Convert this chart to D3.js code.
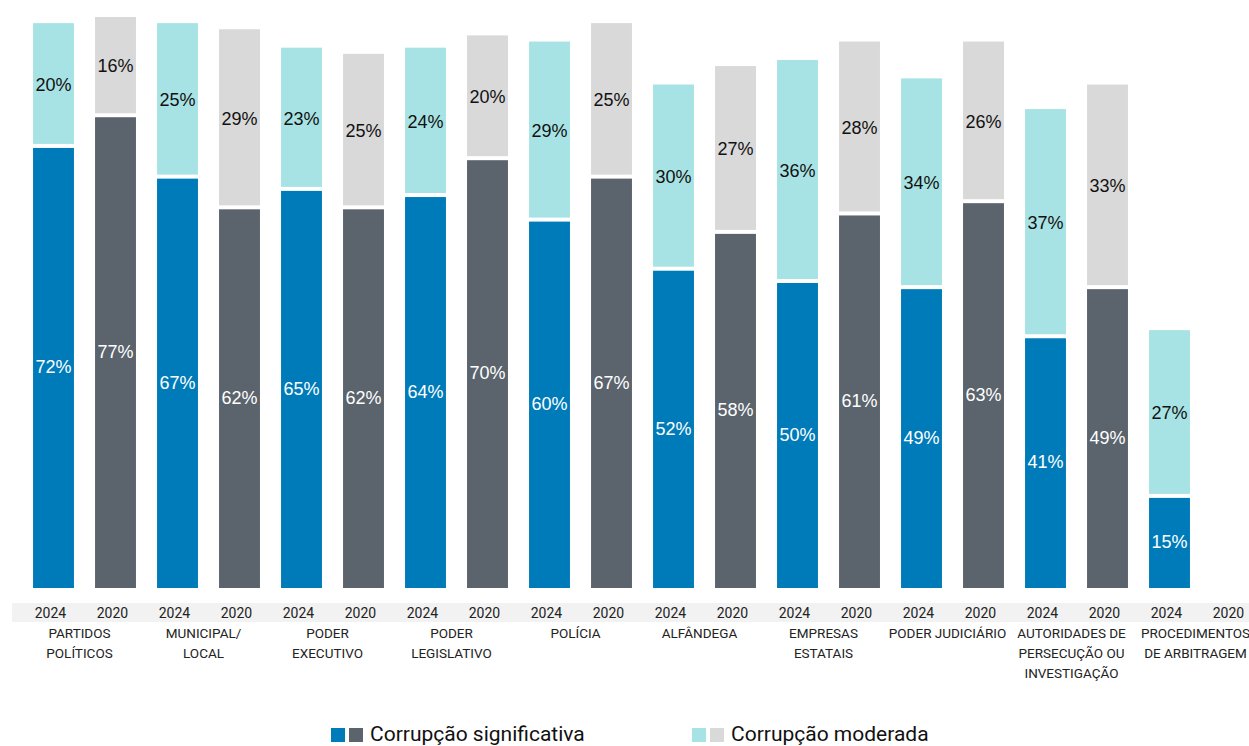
<!DOCTYPE html>
<html lang="pt">
<head>
    <meta charset="UTF-8">
    <title>Corrupção por instituição 2024 vs 2020</title>
    <script src="https://d3js.org/d3.v7.min.js"></script>
    <style>
        body { margin: 0; background: #fff; }
        svg { display: block; }
    </style>
</head>
<body>
    <div id="chart"></div>

    <script>
        // categories (line breaks as in the original)
        const categories = [
            "PARTIDOS\nPOLÍTICOS", "MUNICIPAL/\nLOCAL", "PODER\nEXECUTIVO", "PODER\nLEGISLATIVO",
            "POLÍCIA", "ALFÂNDEGA", "EMPRESAS\nESTATAIS", "PODER JUDICIÁRIO",
            "AUTORIDADES DE\nPERSECUÇÃO OU\nINVESTIGAÇÃO", "PROCEDIMENTOS\nDE ARBITRAGEM"
        ];
        const years = ["2024", "2020"];

        const significativa2024 = [72, 67, 65, 64, 60, 52, 50, 49, 41, 15];
        const moderada2024      = [20, 25, 23, 24, 29, 30, 36, 34, 37, 27];
        const significativa2020 = [77, 62, 62, 70, 67, 58, 61, 63, 49, null];
        const moderada2020      = [16, 29, 25, 20, 25, 27, 28, 26, 33, null];

        const legendLabels = ["Corrupção significativa", "Corrupção moderada"];

        const colors = {
            "2024": { sig: "#007bb9", mod: "#a7e3e4" },
            "2020": { sig: "#5b636d", mod: "#d9d9d9" }
        };

        const width = 1249;
        const height = 746;

        const svg = d3.select("#chart").append("svg")
            .attr("width", width)
            .attr("height", height);

        // one slot per category/year pair
        const slots = [];
        categories.forEach((c, i) => {
            years.forEach(yr => {
                const s = yr === "2024" ? significativa2024[i] : significativa2020[i];
                const m = yr === "2024" ? moderada2024[i] : moderada2020[i];
                slots.push({ cat: i, year: yr, sig: s, mod: m });
            });
        });

        const x = d3.scaleBand()
            .domain(d3.range(slots.length))
            .range([22.5, 22.5 + 62 * slots.length])
            .paddingInner(0.34)
            .paddingOuter(0.17);

        const y = d3.scaleLinear()
            .domain([0, 100])
            .range([588, -26]);

        const gap = 2;

        const bars = svg.selectAll(".bar")
            .data(slots.filter(d => d.sig != null))
            .enter()
            .append("g")
            .attr("class", "bar");

        const idx = d => slots.indexOf(d);

        // significant corruption (bottom)
        bars.append("rect")
            .attr("x", d => x(idx(d)))
            .attr("width", x.bandwidth())
            .attr("y", d => y(d.sig) + gap)
            .attr("height", d => y(0) - y(d.sig) - gap)
            .attr("fill", d => colors[d.year].sig);

        // moderate corruption (top)
        bars.append("rect")
            .attr("x", d => x(idx(d)))
            .attr("width", x.bandwidth())
            .attr("y", d => y(d.sig + d.mod))
            .attr("height", d => y(d.sig) - y(d.sig + d.mod) - gap)
            .attr("fill", d => colors[d.year].mod);

        bars.append("text")
            .attr("x", d => x(idx(d)) + x.bandwidth() / 2)
            .attr("y", d => (y(0) + y(d.sig)) / 2)
            .attr("dy", "0.35em")
            .attr("text-anchor", "middle")
            .attr("font-family", "Liberation Sans, Arial, sans-serif")
            .attr("font-size", 18)
            .attr("fill", "#fff")
            .text(d => d.sig + "%");

        bars.append("text")
            .attr("x", d => x(idx(d)) + x.bandwidth() / 2)
            .attr("y", d => (y(d.sig) + y(d.sig + d.mod)) / 2)
            .attr("dy", "0.35em")
            .attr("text-anchor", "middle")
            .attr("font-family", "Liberation Sans, Arial, sans-serif")
            .attr("font-size", 18)
            .attr("fill", "#111")
            .text(d => d.mod + "%");

        // axis band with years
        svg.append("rect")
            .attr("x", 12)
            .attr("y", 603)
            .attr("width", width - 12)
            .attr("height", 19)
            .attr("fill", "#f2f2f2");

        svg.selectAll(".year")
            .data(slots)
            .enter()
            .append("text")
            .attr("class", "year")
            .attr("x", (d, i) => x(i) + x.bandwidth() / 2 - 3)
            .attr("y", 618)
            .attr("text-anchor", "middle")
            .attr("font-family", "Roboto, sans-serif")
            .attr("font-size", 14)
            .attr("fill", "#222")
            .text(d => d.year);

        // category labels
        const catLabels = svg.selectAll(".cat")
            .data(categories)
            .enter()
            .append("text")
            .attr("class", "cat")
            .attr("text-anchor", "middle")
            .attr("font-family", "Roboto, sans-serif")
            .attr("font-size", 13.5)
            .attr("fill", "#222");

        catLabels.each(function (c, i) {
            const cx = (x(2 * i) + x(2 * i + 1) + x.bandwidth()) / 2 - 5;
            d3.select(this).selectAll("tspan")
                .data(c.split("\n"))
                .enter()
                .append("tspan")
                .attr("x", cx)
                .attr("y", (d, j) => 638 + j * 20)
                .text(d => d);
        });

        // legend
        const legend = svg.append("g")
            .attr("font-family", "Roboto, sans-serif")
            .attr("font-size", 21)
            .attr("fill", "#111");

        const legendItems = [
            { x0: 331, fills: [colors["2024"].sig, colors["2020"].sig], text: legendLabels[0] },
            { x0: 692, fills: [colors["2024"].mod, colors["2020"].mod], text: legendLabels[1] }
        ];

        legendItems.forEach(item => {
            item.fills.forEach((f, k) => {
                legend.append("rect")
                    .attr("x", item.x0 + k * 18)
                    .attr("y", 728)
                    .attr("width", 14)
                    .attr("height", 14)
                    .attr("fill", f);
            });
            legend.append("text")
                .attr("x", item.x0 + 39)
                .attr("y", 741)
                .text(item.text);
        });
    </script>
</body>
</html>
